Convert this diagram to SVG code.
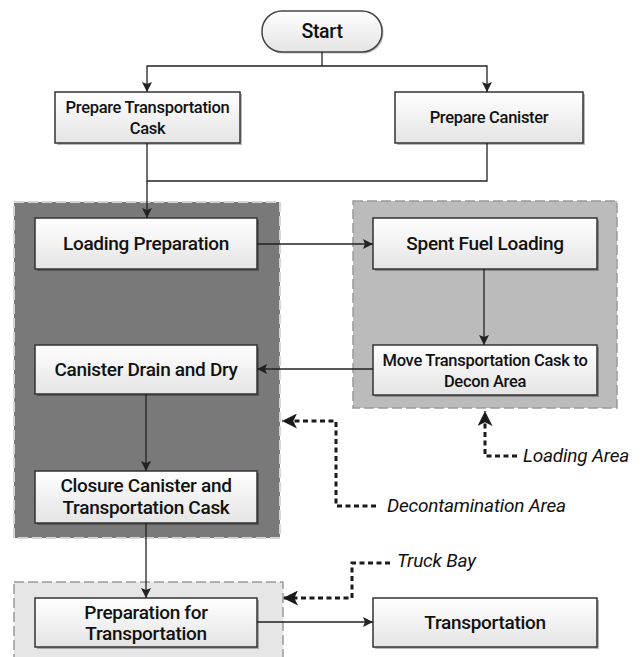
<svg xmlns="http://www.w3.org/2000/svg" width="642" height="657" viewBox="0 0 642 657">
<defs>
<linearGradient id="boxg" x1="0" y1="0" x2="0" y2="1">
<stop offset="0" stop-color="#ffffff"/>
<stop offset="1" stop-color="#e4e4e4"/>
</linearGradient>
<marker id="arr" viewBox="0 0 10 10" refX="10" refY="5" markerWidth="10" markerHeight="10" markerUnits="userSpaceOnUse" orient="auto">
<path d="M0,0 L10,5 L0,10 L2,5 z" fill="#222"/>
</marker>
<marker id="arrB" viewBox="0 0 10 10" refX="10" refY="5" markerWidth="5" markerHeight="5" orient="auto">
<path d="M0,0 L10,5 L0,10 L2.5,5 z" fill="#1a1a1a"/>
</marker>
</defs>
<style>
.box{fill:url(#boxg);stroke:#333;stroke-width:1.5}
.sh{fill:#000;opacity:0.28}
.t{font-family:Roboto,"Open Sans",sans-serif;font-weight:500;fill:#111;text-anchor:middle;letter-spacing:-0.3px}
.lab{font-family:Roboto,"Open Sans",sans-serif;font-style:italic;font-size:19px;fill:#111;letter-spacing:-0.2px}
.c{fill:none;stroke:#222;stroke-width:1.3;marker-end:url(#arr)}
.cl{fill:none;stroke:#222;stroke-width:1.3}
.d{fill:none;stroke:#1a1a1a;stroke-width:3;stroke-dasharray:5,3.5;marker-end:url(#arrB)}
</style>

<g id="area-decon">
<rect x="14" y="202" width="266" height="336" fill="#797979" stroke="#d4d4d4" stroke-width="2" stroke-dasharray="10,4"/>
</g>
<g id="area-loading">
<rect x="353" y="201" width="264" height="207" fill="#bbbbbb" stroke="#9a9a9a" stroke-width="1.5" stroke-dasharray="10,4"/>
</g>
<g id="area-truck">
<rect x="14" y="582" width="269" height="80" fill="#e6e6e6" stroke="#9a9a9a" stroke-width="1.5" stroke-dasharray="10,4"/>
</g>

<g id="start">
<rect x="262" y="11" width="120" height="41" rx="20" ry="20" fill="#000" opacity="0.25" transform="translate(1.5,1.5)"/>
<rect x="262" y="11" width="120" height="41" rx="20" ry="20" fill="url(#boxg)" stroke="#444" stroke-width="1.5"/>
<text class="t" x="322" y="38" font-size="19.5">Start</text>
</g>

<g id="prep-cask">
<rect class="sh" x="57" y="94" width="185" height="51"/>
<rect class="box" x="55" y="92" width="185" height="51"/>
<text class="t" x="147.5" y="113" font-size="16.5">Prepare Transportation</text>
<text class="t" x="147.5" y="134" font-size="16.5">Cask</text>
</g>

<g id="prep-canister">
<rect class="sh" x="397" y="94" width="188" height="51"/>
<rect class="box" x="395" y="92" width="188" height="51"/>
<text class="t" x="489" y="123" font-size="16.5">Prepare Canister</text>
</g>

<g id="loading-prep">
<rect class="sh" x="37" y="220" width="222" height="51"/>
<rect class="box" x="35" y="218" width="222" height="51"/>
<text class="t" x="146" y="250" font-size="19">Loading Preparation</text>
</g>

<g id="spent-fuel">
<rect class="sh" x="375" y="220" width="224" height="51"/>
<rect class="box" x="373" y="218" width="224" height="51"/>
<text class="t" x="485" y="250" font-size="19">Spent Fuel Loading</text>
</g>

<g id="move-cask">
<rect class="sh" x="375" y="347" width="224" height="50"/>
<rect class="box" x="373" y="345" width="224" height="50"/>
<text class="t" x="485" y="366" font-size="16.5">Move Transportation Cask to</text>
<text class="t" x="485" y="387" font-size="16.5">Decon Area</text>
</g>

<g id="drain-dry">
<rect class="sh" x="37" y="347" width="222" height="49"/>
<rect class="box" x="35" y="345" width="222" height="49"/>
<text class="t" x="146" y="376" font-size="19">Canister Drain and Dry</text>
</g>

<g id="closure">
<rect class="sh" x="37" y="473" width="222" height="52"/>
<rect class="box" x="35" y="471" width="222" height="52"/>
<text class="t" x="146" y="492" font-size="19">Closure Canister and</text>
<text class="t" x="146" y="514" font-size="19">Transportation Cask</text>
</g>

<g id="prep-transport">
<rect class="sh" x="37" y="600" width="222" height="49"/>
<rect class="box" x="35" y="598" width="222" height="49"/>
<text class="t" x="146" y="619" font-size="19">Preparation for</text>
<text class="t" x="146" y="640" font-size="19">Transportation</text>
</g>

<g id="transportation">
<rect class="sh" x="375" y="600" width="224" height="49"/>
<rect class="box" x="373" y="598" width="224" height="49"/>
<text class="t" x="485" y="629" font-size="19">Transportation</text>
</g>

<g id="connectors">
<path class="cl" d="M322,52 V66"/>
<path class="c" d="M322,66 H147 V92"/>
<path class="c" d="M322,66 H487 V92"/>
<path class="cl" d="M147,143 V181 H487 V143"/>
<path class="c" d="M147,181 V218"/>
<path class="c" d="M257,244 H373"/>
<path class="c" d="M484,269 V345"/>
<path class="c" d="M373,369 H257"/>
<path class="c" d="M146,394 V471"/>
<path class="c" d="M146,523 V598"/>
<path class="c" d="M257,622 H373"/>
<path class="d" d="M376,506 H336 V421 H282"/>
<path class="d" d="M517,456 H485 V411"/>
<path class="d" d="M390,563 H352 V598 H283"/>
</g>

<g id="labels">
<text class="lab" x="387" y="512">Decontamination Area</text>
<text class="lab" x="523" y="462">Loading Area</text>
<text class="lab" x="397" y="567">Truck Bay</text>
</g>
</svg>
